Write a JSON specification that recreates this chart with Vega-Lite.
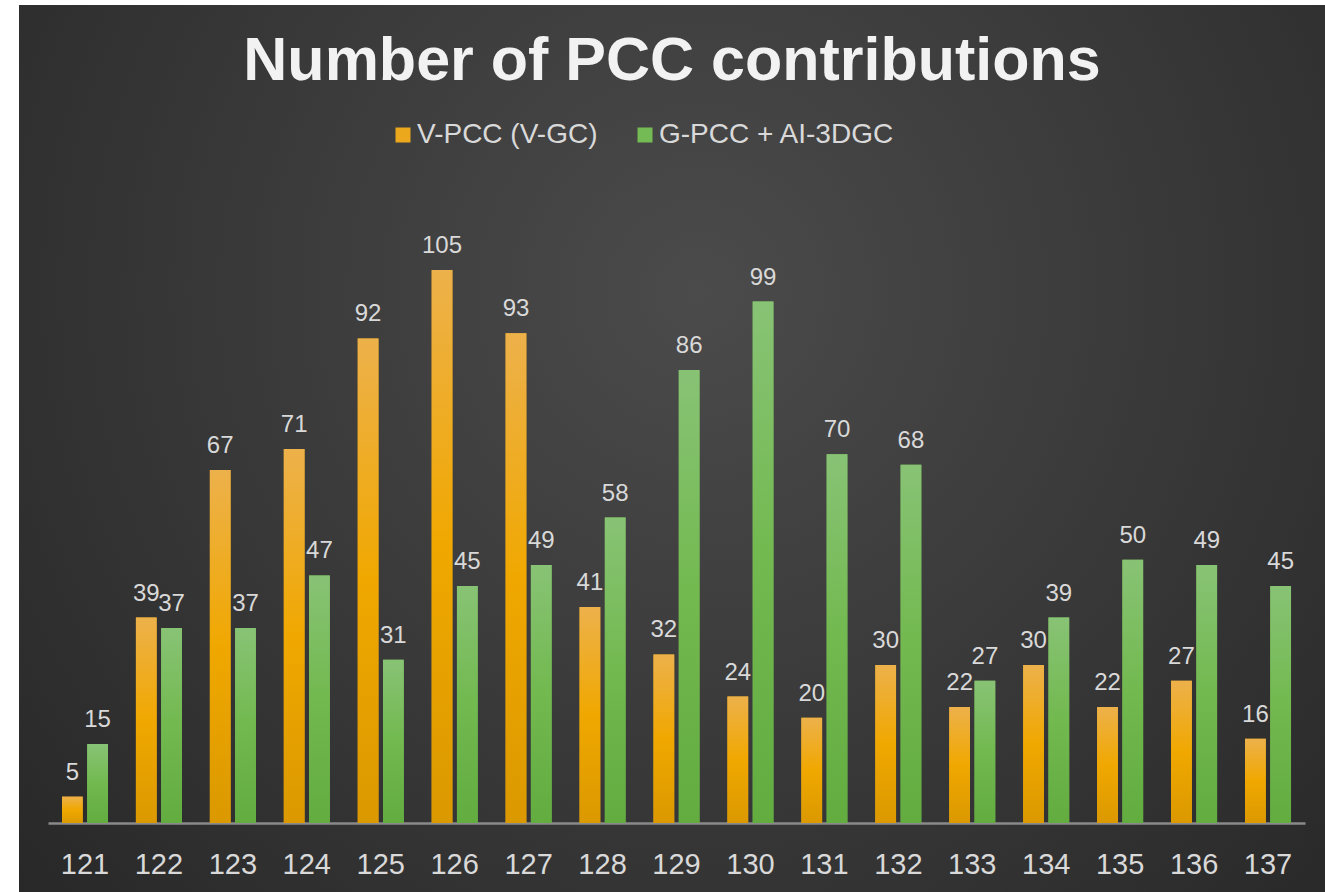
{
  "$schema": "https://vega.github.io/schema/vega-lite/v6.json",
  "autosize": {"type": "fit", "contains": "padding"},
  "width": 1325,
  "height": 892,
  "padding": {"left": 19, "top": 5, "right": 0, "bottom": 0},
  "background": "white",
  "title": {
    "text": "Number of PCC contributions",
    "font": "Liberation Sans",
    "fontSize": 61,
    "fontWeight": "bold",
    "color": "#f2f2f2",
    "anchor": "middle",
    "frame": "group",
    "baseline": "alphabetic",
    "offset": -136
  },
  "config": {
    "view": {
      "stroke": null,
      "fill": {
        "gradient": "radial",
        "x1": 0.52, "y1": 0.38, "r1": 0,
        "x2": 0.52, "y2": 0.38, "r2": 0.75,
        "stops": [
          {"offset": 0, "color": "#4b4b4b"},
          {"offset": 1, "color": "#252525"}
        ]
      }
    },
    "font": "Liberation Sans"
  },
  "data": {
    "values": [
      {"meeting": "121", "series": "V-PCC (V-GC)", "value": 5},
      {"meeting": "121", "series": "G-PCC + AI-3DGC", "value": 15},
      {"meeting": "122", "series": "V-PCC (V-GC)", "value": 39},
      {"meeting": "122", "series": "G-PCC + AI-3DGC", "value": 37},
      {"meeting": "123", "series": "V-PCC (V-GC)", "value": 67},
      {"meeting": "123", "series": "G-PCC + AI-3DGC", "value": 37},
      {"meeting": "124", "series": "V-PCC (V-GC)", "value": 71},
      {"meeting": "124", "series": "G-PCC + AI-3DGC", "value": 47},
      {"meeting": "125", "series": "V-PCC (V-GC)", "value": 92},
      {"meeting": "125", "series": "G-PCC + AI-3DGC", "value": 31},
      {"meeting": "126", "series": "V-PCC (V-GC)", "value": 105},
      {"meeting": "126", "series": "G-PCC + AI-3DGC", "value": 45},
      {"meeting": "127", "series": "V-PCC (V-GC)", "value": 93},
      {"meeting": "127", "series": "G-PCC + AI-3DGC", "value": 49},
      {"meeting": "128", "series": "V-PCC (V-GC)", "value": 41},
      {"meeting": "128", "series": "G-PCC + AI-3DGC", "value": 58},
      {"meeting": "129", "series": "V-PCC (V-GC)", "value": 32},
      {"meeting": "129", "series": "G-PCC + AI-3DGC", "value": 86},
      {"meeting": "130", "series": "V-PCC (V-GC)", "value": 24},
      {"meeting": "130", "series": "G-PCC + AI-3DGC", "value": 99},
      {"meeting": "131", "series": "V-PCC (V-GC)", "value": 20},
      {"meeting": "131", "series": "G-PCC + AI-3DGC", "value": 70},
      {"meeting": "132", "series": "V-PCC (V-GC)", "value": 30},
      {"meeting": "132", "series": "G-PCC + AI-3DGC", "value": 68},
      {"meeting": "133", "series": "V-PCC (V-GC)", "value": 22},
      {"meeting": "133", "series": "G-PCC + AI-3DGC", "value": 27},
      {"meeting": "134", "series": "V-PCC (V-GC)", "value": 30},
      {"meeting": "134", "series": "G-PCC + AI-3DGC", "value": 39},
      {"meeting": "135", "series": "V-PCC (V-GC)", "value": 22},
      {"meeting": "135", "series": "G-PCC + AI-3DGC", "value": 50},
      {"meeting": "136", "series": "V-PCC (V-GC)", "value": 27},
      {"meeting": "136", "series": "G-PCC + AI-3DGC", "value": 49},
      {"meeting": "137", "series": "V-PCC (V-GC)", "value": 16},
      {"meeting": "137", "series": "G-PCC + AI-3DGC", "value": 45}
    ]
  },
  "encoding": {
    "x": {
      "field": "meeting",
      "type": "nominal",
      "sort": null,
      "scale": {"range": [29, 1286], "paddingInner": 0.378, "paddingOuter": 0.189},
      "axis": {
        "title": null,
        "orient": "bottom",
        "offset": -69,
        "labelAngle": 0,
        "labelFontSize": 29,
        "labelColor": "#d9d9d9",
        "labelPadding": 27,
        "ticks": false,
        "domainColor": "#8a8a8a",
        "domainWidth": 2.5,
        "grid": false
      }
    },
    "xOffset": {
      "field": "series",
      "type": "nominal",
      "sort": ["V-PCC (V-GC)", "G-PCC + AI-3DGC"],
      "scale": {"paddingInner": 0.18}
    },
    "y": {
      "field": "value",
      "type": "quantitative",
      "scale": {"domain": [-13.1, 155.3], "nice": false, "zero": false},
      "axis": null
    }
  },
  "layer": [
    {
      "mark": {"type": "bar"},
      "encoding": {
        "color": {
          "field": "series",
          "type": "nominal",
          "sort": ["V-PCC (V-GC)", "G-PCC + AI-3DGC"],
          "scale": {"domain": ["V-PCC (V-GC)", "G-PCC + AI-3DGC"], "range": ["#eca81c", "#75bb55"]},
          "legend": {
            "title": null,
            "orient": "none",
            "legendX": 370,
            "legendY": 116,
            "direction": "horizontal",
            "symbolType": "square",
            "symbolSize": 225,
            "symbolStrokeWidth": 0,
            "labelFontSize": 28,
            "labelColor": "#d9d9d9",
            "labelOffset": 0,
            "columnPadding": 33,
            "padding": 0,
            "labelLimit": 400
          }
        }
      }
    },
    {
      "transform": [{"filter": "datum.series === 'V-PCC (V-GC)'"}],
      "mark": {
        "type": "bar",
        "color": {
          "gradient": "linear", "x1": 0, "y1": 0, "x2": 0, "y2": 1,
          "stops": [
            {"offset": 0, "color": "#edb14b"},
            {"offset": 0.5, "color": "#f0a800"},
            {"offset": 1, "color": "#db9900"}
          ]
        }
      }
    },
    {
      "transform": [{"filter": "datum.series === 'G-PCC + AI-3DGC'"}],
      "mark": {
        "type": "bar",
        "color": {
          "gradient": "linear", "x1": 0, "y1": 0, "x2": 0, "y2": 1,
          "stops": [
            {"offset": 0, "color": "#88c375"},
            {"offset": 0.5, "color": "#72b94f"},
            {"offset": 1, "color": "#62ac40"}
          ]
        }
      }
    },
    {
      "mark": {
        "type": "text",
        "baseline": "alphabetic",
        "dy": -17,
        "fontSize": 24,
        "color": "#d9d9d9"
      },
      "encoding": {"text": {"field": "value", "type": "quantitative"}}
    }
  ]
}
